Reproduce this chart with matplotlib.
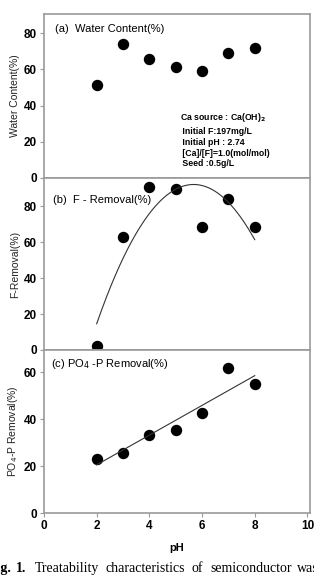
import numpy as np
import matplotlib
matplotlib.use("Agg")
import matplotlib.pyplot as plt

plt.rcParams['font.family'] = ['Liberation Sans', 'DejaVu Sans']

ph = [2, 3, 4, 5, 6, 7, 8]
water_content = [51.3, 73.8, 65.8, 61.2, 59.0, 68.8, 71.9]
f_removal = [2.4, 62.6, 90.7, 89.3, 68.3, 83.7, 68.5]
p_removal = [23.0, 25.8, 33.3, 35.3, 42.9, 62.0, 54.9]

W, H = 314, 581
fig = plt.figure(figsize=(W / 100, H / 100), dpi=100)

left = 44 / W
width = (309.5 - 44) / W

def ax_rect(top_px, bot_px):
    return [left, 1 - bot_px / H, width, (bot_px - top_px) / H]

ax_a = fig.add_axes(ax_rect(14, 178))
ax_b = fig.add_axes(ax_rect(178, 350))
ax_c = fig.add_axes(ax_rect(350, 513))

spine_col = '#9a9a9a'
for ax in (ax_a, ax_b, ax_c):
    ax.set_xlim(0, 10.08)
    for s in ax.spines.values():
        s.set_color(spine_col)
        s.set_linewidth(1.2)
    ax.tick_params(direction='out', length=3, width=0.8, color=spine_col,
                   labelsize=8.5, pad=2)
    ax.set_xticks([0, 2, 4, 6, 8, 10])

ax_a.set_xticklabels([])
ax_b.set_xticklabels([])

# panel a
ax_a.plot(ph, water_content, 'o', color='black', markersize=7.2)
ax_a.set_ylim(0, 90.5)
ax_a.set_yticks([0, 20, 40, 60, 80])
ax_a.set_ylabel('Water Content(%)', fontsize=7.5, labelpad=3, color='#222222')
ax_a.text(0.04, 0.94, '(a)  Water Content(%)', transform=ax_a.transAxes,
          fontsize=8, va='top', ha='left')
info = ['Ca source : Ca(OH)$_\\mathbf{2}$', ' Initial F:197mg/L', ' Initial pH : 2.74',
        ' [Ca]/[F]=1.0(mol/mol)', ' Seed :0.5g/L']
ys = [118, 132, 142.5, 153, 163.5]
for t, y in zip(info, ys):
    ax_a.text(180 / W, 1 - y / H, t, transform=fig.transFigure, fontsize=6.3,
              fontweight='bold', va='center', ha='left')

# panel b
ax_b.plot(ph, f_removal, 'o', color='black', markersize=7.2)
coef_b = np.polyfit(ph, f_removal, 2)
xs = np.linspace(min(ph), max(ph), 200)
ax_b.plot(xs, np.polyval(coef_b, xs), color='#333333', linewidth=0.8)
ax_b.set_ylim(0, 95.6)
ax_b.set_yticks([0, 20, 40, 60, 80])
ax_b.set_ylabel('F-Removal(%)', fontsize=7.5, labelpad=3, color='#222222')
ax_b.text(0.035, 0.90, '(b)  F - Removal(%)', transform=ax_b.transAxes,
          fontsize=8, va='top', ha='left')

# panel c
ax_c.plot(ph, p_removal, 'o', color='black', markersize=7.2)
coef_c = np.polyfit(ph, p_removal, 1)
ax_c.plot(xs, np.polyval(coef_c, xs), color='#333333', linewidth=0.8)
ax_c.set_ylim(0, 69.6)
ax_c.set_yticks([0, 20, 40, 60])
ax_c.set_ylabel('PO$_4$-P Removal(%)', fontsize=7.5, labelpad=3, color='#222222')
ax_c.text(0.025, 0.955, '(c) PO$_4$ -P Removal(%)', transform=ax_c.transAxes,
          fontsize=8, va='top', ha='left')

for ax in (ax_a, ax_b, ax_c):
    for lab in ax.get_yticklabels():
        lab.set_fontweight('bold')
ax_c.set_xticklabels(['0', '2', '4', '6', '8', '10'], fontweight='bold')
ax_c.set_xlabel('pH', fontsize=8, fontweight='bold', labelpad=8)

# caption
cap_y = 1 - 572 / H
words = [('Fig.', 12, 'right', 'bold'), ('1.', 16, 'left', 'bold'),
         ('Treatability', 35, 'left', 'normal'), ('characteristics', 105, 'left', 'normal'),
         ('of', 191, 'left', 'normal'), ('semiconductor', 210, 'left', 'normal'),
         ('waste', 297, 'left', 'normal')]
for w, x, ha, fw in words:
    fig.text(x / W, cap_y, w, fontsize=10, fontweight=fw, ha=ha, va='baseline',
             family=['Liberation Serif', 'DejaVu Serif'])

fig.savefig('out.png', dpi=100)
